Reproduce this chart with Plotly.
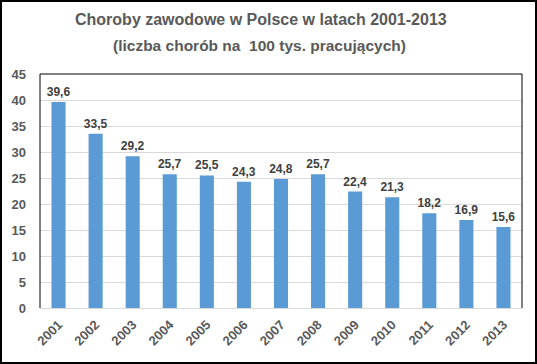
import plotly.graph_objects as go

years = ["2001", "2002", "2003", "2004", "2005", "2006", "2007", "2008", "2009", "2010", "2011", "2012", "2013"]
values = [39.6, 33.5, 29.2, 25.7, 25.5, 24.3, 24.8, 25.7, 22.4, 21.3, 18.2, 16.9, 15.6]
labels = [f"{v:.1f}".replace(".", ",") for v in values]

W, H = 537, 364
L, R, T, B = 40, 15, 74, 56
pw, ph = W - L - R, H - T - B
font = "Liberation Sans, Arial"

fig = go.Figure(go.Bar(
    x=years, y=values, marker_color="#5b9bd5", marker_line_width=0,
    text=labels, texttemplate="<b>%{text}</b>", textposition="outside",
    cliponaxis=False, constraintext="none", hoverinfo="skip",
    textfont=dict(family=font, size=12, color="#404040"),
))

def px(x):
    return (x - L) / pw

def py(y):
    return 1 - (y - T) / ph

fig.update_layout(
    width=W, height=H, margin=dict(l=L, r=R, t=T, b=B),
    paper_bgcolor="white", plot_bgcolor="white",
    bargap=0.62, showlegend=False,
    xaxis=dict(tickangle=-45, tickfont=dict(family=font, size=13, color="#595959"),
               showline=True, linecolor="#d9d9d9", linewidth=1, ticks="",
               ticklabelstandoff=3,
               tickprefix="<b>", ticksuffix="</b>"),
    yaxis=dict(range=[0, 45], dtick=5, showgrid=True, gridcolor="#d9d9d9", gridwidth=1,
               zeroline=False, ticks="", ticklabelstandoff=13,
               tickfont=dict(family=font, size=13, color="#595959"),
               tickprefix="<b>", ticksuffix="</b>"),
    annotations=[
        dict(text="<b>Choroby zawodowe w Polsce w latach 2001-2013</b>", xref="paper", yref="paper",
             x=px(W / 2 - 8), y=py(20), xanchor="center", yanchor="middle", showarrow=False,
             font=dict(family=font, size=16, color="#595959")),
        dict(text="<b>(liczba chorób na  100 tys. pracujących)</b>", xref="paper", yref="paper",
             x=px(W / 2 - 9), y=py(45), xanchor="center", yanchor="middle", showarrow=False,
             font=dict(family=font, size=15.5, color="#595959")),
    ],
)

shapes = [
    dict(type="line", xref="paper", yref="paper", x0=0, x1=0, y0=0, y1=1, line=dict(color="black", width=1)),
    dict(type="line", xref="paper", yref="paper", x0=0, x1=1, y0=1, y1=1, line=dict(color="black", width=1)),
    dict(type="line", xref="paper", yref="paper", x0=1, x1=1, y0=0, y1=1, line=dict(color="black", width=1)),
    dict(type="rect", xref="paper", yref="paper", x0=px(1), x1=px(W - 1), y0=py(H - 1), y1=py(1),
         line=dict(color="black", width=2), layer="above"),
]
fig.update_layout(shapes=shapes)

fig.write_html("out.html", config={"displayModeBar": False},
               post_script="document.body.style.margin='0';document.body.style.overflow='hidden';")
